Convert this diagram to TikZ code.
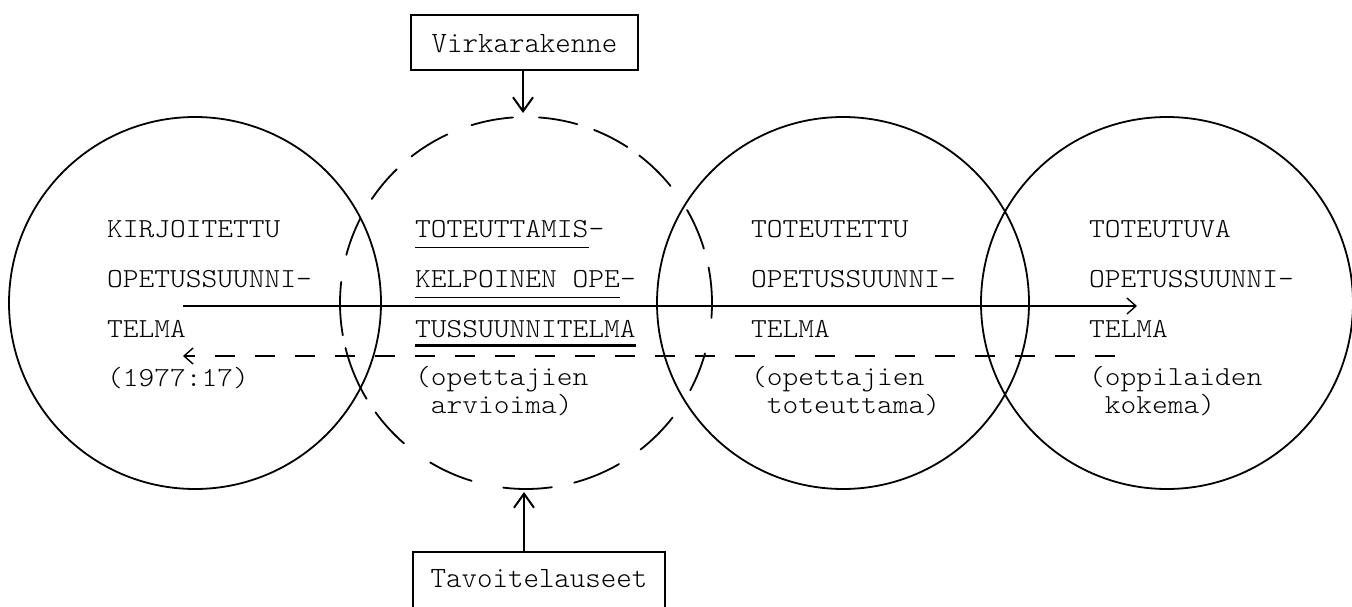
\documentclass[tikz,border=0pt]{standalone}
\usepackage{fontspec}
\usetikzlibrary{arrows.meta}
% light typewriter faces: a widened one for the ring texts, a plain one for the boxes
\newfontfamily\twfont{lmmonolt10-regular.otf}[FakeStretch=1.09]
\newfontfamily\twlabel{lmmonolt10-regular.otf}
\begin{document}
\begin{tikzpicture}[x=1pt,y=-1pt,
  ring/.style={circle, draw, line width=1.8pt, minimum size=372pt, inner sep=0pt},
  arcpiece/.style={line width=1.8pt, line cap=round},
  txt/.style={anchor=base west, inner sep=0pt, font=\twfont\fontsize{27.5}{30}\selectfont},
  labelbox/.style={draw, line width=2.2pt, inner xsep=20.5pt, inner ysep=10pt,
    font=\twlabel\fontsize{29.5}{35}\selectfont},
  flow/.style={line width=1.4pt},
  hbarb/.style={-{Straight Barb[length=9pt,width=16pt,line width=1.4pt]}},
  vbarb/.style={-{Straight Barb[length=14pt,width=20pt,line width=2pt]}, line width=1.8pt},
  thinrule/.style={line width=1pt},
  thickrule/.style={line width=3pt}
]
\useasboundingbox (0,0) rectangle (1352,607);
\clip (0,0) rectangle (1352,607);

% solid rings
\node[ring] (k1) at (195,303) {};
\node[ring] (k3) at (843,303) {};
\node[ring] (k4) at (1167,303) {};

% broken ring, drawn as separate arcs
\coordinate (dc) at (526,303);
\foreach \a/\b in {-107/-94, -128/-115, -146/-134, -165/-153, 170/186.5,
                   149/166, 131/144, 107/121, 82/97,
                   -86/-74, -68.5/-57, -52.5/-39, -30/-17, -11/4.6,
                   15.7/28, 38/52, 60/75}
  \draw[arcpiece] ([shift={(\a:186)}]dc) arc[start angle=\a, end angle=\b, radius=186];

% boxes and their arrows
\node[labelbox, text height=28pt, text depth=7pt, anchor=base] (vir) at (524.5,53) {Virkarakenne};
\node[labelbox, text height=25pt, text depth=40pt, inner xsep=17.5pt, anchor=base] (tav) at (539,587) {Tavoitelauseet};
\coordinate (dtop) at (523,113);
\coordinate (dbot) at (524,492);
\draw[vbarb] (vir.south -| dtop) -- (dtop);
\draw[vbarb] (tav.north -| dbot) -- (dbot);

% horizontal flows
\coordinate (fwdA) at (183,306);
\coordinate (fwdB) at (1137,306);
\coordinate (backA) at (1115,356);
\coordinate (backB) at (183,356);
\draw[flow, hbarb] (fwdA) -- (fwdB);
\draw[flow, hbarb, dash pattern=on 20pt off 20pt] (backA) -- (backB);

% texts of the first ring
\node[txt] (a1) at (107,237) {KIRJOITETTU};
\node[txt] (a2) at (107,287) {OPETUSSUUNNI-};
\node[txt] (a3) at (107,337) {TELMA};
\node[txt] (a4) at (107,386) {(1977:17)};

% texts of the broken ring
\node[txt] (b1) at (415,237) {TOTEUTTAMIS};
\node[txt] (b1h) at (b1.base east) {-};
\node[txt] (b2) at (415,287) {KELPOINEN OPE};
\node[txt] (b2h) at (b2.base east) {-};
\node[txt] (b3) at (415,337) {TUSSUUNNITELMA};
\node[txt] (b4) at (415,385) {(opettajien};
\node[txt] (b5) at (415,413) {\ arvioima)};
\draw[thinrule] ([yshift=-10pt]b1.base west) -- ([yshift=-10pt]b1.base east);
\draw[thinrule] ([yshift=-10pt]b2.base west) -- ([yshift=-10pt]b2.base east);
\draw[thickrule] ([yshift=-8pt]b3.base west) -- ([yshift=-8pt]b3.base east);

% texts of the third ring
\node[txt] (c1) at (751,237) {TOTEUTETTU};
\node[txt] (c2) at (751,287) {OPETUSSUUNNI-};
\node[txt] (c3) at (751,337) {TELMA};
\node[txt] (c4) at (751,385) {(opettajien};
\node[txt] (c5) at (751,413) {\ toteuttama)};

% texts of the fourth ring
\node[txt] (d1) at (1089,237) {TOTEUTUVA};
\node[txt] (d2) at (1089,287) {OPETUSSUUNNI-};
\node[txt] (d3) at (1089,337) {TELMA};
\node[txt] (d4) at (1089,385) {(oppilaiden};
\node[txt] (d5) at (1089,413) {\ kokema)};
\end{tikzpicture}
\end{document}
